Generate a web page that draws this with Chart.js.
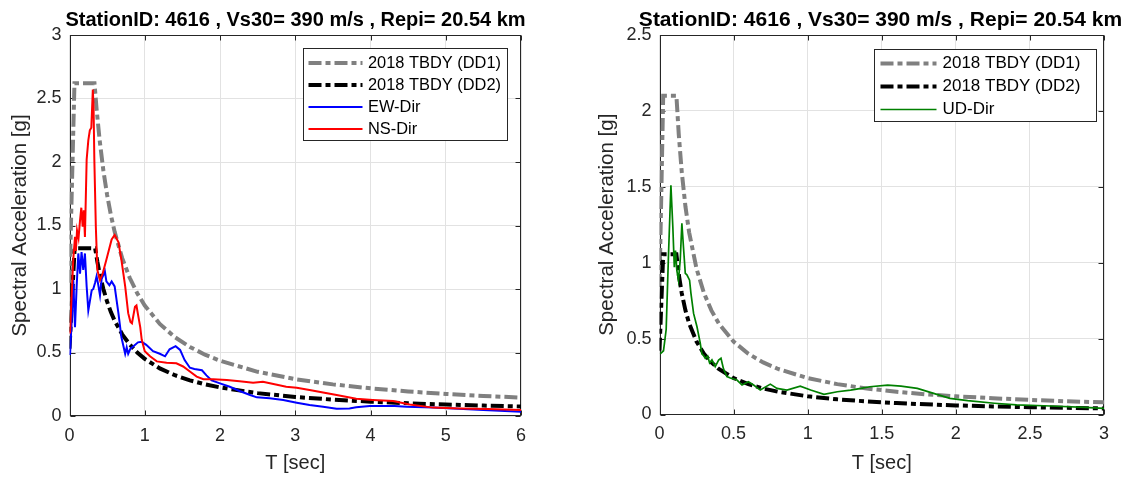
<!DOCTYPE html>
<html><head><meta charset="utf-8">
<script src="https://cdn.jsdelivr.net/npm/chart.js@4.4.1/dist/chart.umd.min.js"></script>
<style>
html,body{margin:0;padding:0;background:#fff;overflow:hidden;width:1132px;height:477px;}
canvas{position:absolute;top:0;}
#c1{left:0;}
#c2{left:587px;}
</style></head><body>
<canvas id="c1" width="591" height="477"></canvas>
<canvas id="c2" width="587" height="477"></canvas>
<script>
// ---------- DATA ----------
const titleText = 'StationID: 4616 , Vs30= 390 m/s , Repi= 20.54 km';

// Left panel (horizontal components)
const tDD1 = [0, 0.066, 0.332, 0.36, 0.4, 0.45, 0.5, 0.55, 0.6, 0.7, 0.8, 0.9, 1.0, 1.2, 1.4, 1.6, 1.8, 2.0, 2.5, 3.0, 3.5, 4.0, 4.5, 5.0, 5.5, 6.0];
const saDD1 = [1.05, 2.62, 2.62, 2.417, 2.175, 1.933, 1.74, 1.582, 1.45, 1.243, 1.088, 0.967, 0.87, 0.725, 0.621, 0.544, 0.483, 0.435, 0.348, 0.29, 0.249, 0.218, 0.193, 0.174, 0.158, 0.145];
const tDD2 = [0, 0.068, 0.341, 0.37, 0.4, 0.45, 0.5, 0.55, 0.6, 0.7, 0.8, 0.9, 1.0, 1.2, 1.4, 1.6, 1.8, 2.0, 2.5, 3.0, 3.5, 4.0, 4.5, 5.0, 5.5, 6.0];
const saDD2 = [0.53, 1.32, 1.32, 1.216, 1.125, 1.0, 0.9, 0.818, 0.75, 0.643, 0.563, 0.5, 0.45, 0.375, 0.321, 0.281, 0.25, 0.225, 0.18, 0.15, 0.129, 0.113, 0.1, 0.09, 0.082, 0.075];
const tEW = [0.007, 0.03, 0.05, 0.073, 0.095, 0.117, 0.14, 0.16, 0.183, 0.205, 0.228, 0.25, 0.27, 0.295, 0.316, 0.34, 0.36, 0.38, 0.405, 0.427, 0.45, 0.47, 0.49, 0.53, 0.56, 0.60, 0.65, 0.69, 0.74, 0.76, 0.78, 0.81, 0.85, 0.91, 0.96, 1.02, 1.11, 1.20, 1.27, 1.33, 1.41, 1.47, 1.53, 1.60, 1.66, 1.76, 1.82, 1.89, 2.0, 2.13, 2.26, 2.40, 2.49, 2.66, 2.84, 3.02, 3.19, 3.37, 3.55, 3.72, 3.81, 3.99, 4.32, 4.48, 4.83, 5.1, 5.5, 6.0];
const saEW = [0.48, 0.76, 1.07, 0.70, 1.02, 1.28, 1.12, 1.29, 1.15, 1.28, 1.02, 0.83, 0.90, 0.99, 1.0, 1.05, 1.10, 1.04, 0.95, 1.08, 1.11, 1.14, 1.06, 1.03, 1.06, 1.02, 0.81, 0.62, 0.49, 0.54, 0.49, 0.53, 0.55, 0.58, 0.585, 0.56, 0.51, 0.49, 0.47, 0.525, 0.55, 0.52, 0.44, 0.38, 0.37, 0.36, 0.32, 0.28, 0.257, 0.23, 0.197, 0.165, 0.147, 0.139, 0.126, 0.105, 0.087, 0.073, 0.058, 0.06, 0.068, 0.079, 0.079, 0.073, 0.066, 0.06, 0.047, 0.034];
const tNS = [0.007, 0.03, 0.05, 0.073, 0.085, 0.10, 0.12, 0.14, 0.157, 0.175, 0.19, 0.205, 0.228, 0.25, 0.27, 0.29, 0.31, 0.32, 0.33, 0.35, 0.37, 0.405, 0.44, 0.49, 0.56, 0.60, 0.65, 0.69, 0.74, 0.78, 0.81, 0.83, 0.87, 0.89, 0.91, 0.94, 0.96, 1.0, 1.07, 1.16, 1.29, 1.42, 1.51, 1.60, 1.69, 1.78, 1.91, 2.09, 2.26, 2.44, 2.57, 2.71, 2.88, 3.02, 3.19, 3.37, 3.55, 3.81, 4.03, 4.30, 4.52, 4.83, 5.19, 5.56, 6.0];
const saNS = [0.65, 0.97, 1.23, 1.41, 1.30, 1.46, 1.40, 1.54, 1.64, 1.49, 1.62, 1.41, 2.02, 2.17, 2.25, 2.27, 2.57, 2.43, 2.02, 1.49, 1.15, 1.07, 1.12, 1.23, 1.39, 1.425, 1.37, 1.23, 1.02, 0.81, 0.74, 0.73, 0.86, 0.87, 0.80, 0.70, 0.60, 0.51, 0.47, 0.43, 0.42, 0.415, 0.39, 0.35, 0.31, 0.29, 0.29, 0.283, 0.273, 0.262, 0.27, 0.252, 0.231, 0.223, 0.205, 0.185, 0.165, 0.135, 0.126, 0.118, 0.09, 0.066, 0.06, 0.055, 0.047];

// Right panel (vertical component)
const tDD1v = [0, 0.025, 0.114, 0.13, 0.15, 0.175, 0.2, 0.25, 0.3, 0.35, 0.4, 0.5, 0.6, 0.7, 0.8, 1.0, 1.2, 1.4, 1.6, 1.8, 2.0, 2.25, 2.5, 2.75, 3.0];
const saDD1v = [0.84, 2.1, 2.1, 1.846, 1.6, 1.371, 1.2, 0.96, 0.8, 0.686, 0.6, 0.48, 0.4, 0.343, 0.3, 0.24, 0.2, 0.171, 0.15, 0.133, 0.12, 0.107, 0.096, 0.087, 0.08];
const tDD2v = [0, 0.025, 0.114, 0.13, 0.15, 0.175, 0.2, 0.25, 0.3, 0.35, 0.4, 0.5, 0.6, 0.7, 0.8, 1.0, 1.2, 1.4, 1.6, 1.8, 2.0, 2.25, 2.5, 2.75, 3.0];
const saDD2v = [0.42, 1.056, 1.056, 0.923, 0.8, 0.686, 0.6, 0.48, 0.4, 0.343, 0.3, 0.24, 0.2, 0.171, 0.15, 0.12, 0.1, 0.086, 0.075, 0.067, 0.06, 0.053, 0.048, 0.044, 0.04];
const tUD = [0.005, 0.027, 0.045, 0.061, 0.077, 0.09, 0.10, 0.108, 0.117, 0.128, 0.14, 0.151, 0.162, 0.174, 0.185, 0.203, 0.212, 0.23, 0.253, 0.275, 0.286, 0.297, 0.309, 0.325, 0.338, 0.354, 0.376, 0.399, 0.415, 0.432, 0.455, 0.478, 0.523, 0.557, 0.60, 0.635, 0.68, 0.748, 0.793, 0.86, 0.95, 1.02, 1.11, 1.20, 1.29, 1.36, 1.42, 1.54, 1.63, 1.74, 1.85, 1.96, 2.08, 2.26, 2.41, 2.64, 2.87, 3.0];
const saUD = [0.40, 0.42, 0.56, 1.06, 1.51, 1.235, 0.97, 1.08, 0.95, 0.885, 1.02, 1.26, 1.10, 0.93, 0.92, 0.885, 0.80, 0.666, 0.578, 0.47, 0.40, 0.39, 0.37, 0.385, 0.34, 0.36, 0.315, 0.358, 0.37, 0.30, 0.25, 0.24, 0.227, 0.194, 0.216, 0.194, 0.161, 0.20, 0.172, 0.161, 0.187, 0.161, 0.133, 0.15, 0.161, 0.172, 0.183, 0.194, 0.187, 0.172, 0.139, 0.106, 0.091, 0.074, 0.063, 0.056, 0.047, 0.041];

// Tick labels
const xTicksLeft = [0, 1, 2, 3, 4, 5, 6];
const yTicksLeft = [0, 0.5, 1, 1.5, 2, 2.5, 3];
const xTicksRight = [0, 0.5, 1, 1.5, 2, 2.5, 3];
const yTicksRight = [0, 0.5, 1, 1.5, 2, 2.5];

// Legend labels
const lblDD1 = '2018 TBDY (DD1)';
const lblDD2 = '2018 TBDY (DD2)';
const lblEW = 'EW-Dir';
const lblNS = 'NS-Dir';
const lblUD = 'UD-Dir';

// ---------- RENDERING ----------
const FONT = '"Liberation Sans", Arial, Helvetica, sans-serif';
const AX = '#262626';
const pts = (xs, ys) => xs.map((x, i) => ({x: x, y: ys[i]}));
const fmt = v => String(Number(v.toFixed(2)));

const frameTicks = {
  id: 'frameTicks',
  beforeDatasetsDraw(chart) {
    const {ctx, chartArea: a, scales} = chart;
    const L = Math.round(a.left) + 0.5, R = Math.round(a.right) - 0.5;
    const T = Math.round(a.top) + 0.5, B = Math.round(a.bottom) - 0.5;
    ctx.save();
    ctx.strokeStyle = AX; ctx.lineWidth = 1;
    ctx.strokeRect(L, T, R - L, B - T);
    const len = 5;
    ctx.beginPath();
    scales.x.ticks.forEach(t => {
      const p = Math.round(scales.x.getPixelForValue(t.value)) + 0.5;
      ctx.moveTo(p, B); ctx.lineTo(p, B - len);
      ctx.moveTo(p, T); ctx.lineTo(p, T + len);
    });
    scales.y.ticks.forEach(t => {
      const p = Math.round(scales.y.getPixelForValue(t.value)) + 0.5;
      ctx.moveTo(L, p); ctx.lineTo(L + len, p);
      ctx.moveTo(R, p); ctx.lineTo(R - len, p);
    });
    ctx.stroke();
    ctx.restore();
  }
};

const boxLegend = {
  id: 'boxLegend',
  afterDatasetsDraw(chart, args, o) {
    const {ctx, chartArea: a} = chart;
    const ds = chart.data.datasets;
    const x = Math.round(a.left + o.dx) + 0.5, y = Math.round(a.top + o.dy) + 0.5;
    ctx.save();
    ctx.fillStyle = '#fff';
    ctx.fillRect(x, y, o.w, o.h);
    ctx.strokeStyle = AX; ctx.lineWidth = 1;
    ctx.strokeRect(x, y, o.w, o.h);
    ctx.font = o.fontSize + 'px ' + FONT;
    ctx.textBaseline = 'middle';
    ctx.textAlign = 'left';
    ds.forEach((d, i) => {
      const cy = y + o.first + i * o.row;
      ctx.beginPath();
      ctx.strokeStyle = d.borderColor;
      ctx.lineWidth = d.borderWidth;
      ctx.setLineDash(d.borderDash || []);
      ctx.moveTo(x + o.s0, cy); ctx.lineTo(x + o.s1, cy);
      ctx.stroke();
      ctx.setLineDash([]);
      ctx.fillStyle = '#000';
      ctx.fillText(d.label, x + o.tx, cy);
    });
    ctx.restore();
  }
};

function makeChart(id, datasets, xMax, yMax, xTicks, yTicks, yAxisW, xAxisH, titleSize, legendOpts) {
  return new Chart(document.getElementById(id), {
    type: 'line',
    data: {datasets: datasets},
    options: {
      responsive: false,
      animation: false,
      devicePixelRatio: 1,
      parsing: false,
      layout: {padding: 0},
      elements: {point: {radius: 0}, line: {tension: 0, borderCapStyle: 'butt'}},
      plugins: {
        legend: {display: false},
        tooltip: {enabled: false},
        title: {display: true, text: titleText, color: '#000',
          font: {family: FONT, size: titleSize, weight: 'bold', lineHeight: 1.2},
          padding: {top: 8, bottom: 35 - 8 - titleSize * 1.2}},
        boxLegend: legendOpts
      },
      scales: {
        x: {type: 'linear', min: 0, max: xMax,
          afterBuildTicks: s => { s.ticks = xTicks.map(v => ({value: v})); },
          afterFit: s => { s.height = xAxisH; },
          grid: {color: '#e2e2e2', drawTicks: false, lineWidth: 1},
          border: {display: false},
          ticks: {color: AX, font: {family: FONT, size: 18}, padding: 9, maxRotation: 0, autoSkip: false, callback: fmt},
          title: {display: true, text: 'T [sec]', color: AX, font: {family: FONT, size: 20, lineHeight: 1.2}, padding: {top: 0, bottom: 2}}
        },
        y: {type: 'linear', min: 0, max: yMax,
          afterBuildTicks: s => { s.ticks = yTicks.map(v => ({value: v})); },
          afterFit: s => { s.width = yAxisW; },
          grid: {color: '#e2e2e2', drawTicks: false, lineWidth: 1},
          border: {display: false},
          ticks: {color: AX, font: {family: FONT, size: 18}, padding: 8, autoSkip: false, callback: fmt},
          title: {display: true, text: 'Spectral Acceleration [g]', color: AX, font: {family: FONT, size: 20.5, lineHeight: 1.2}, padding: {top: 8, bottom: 0}}
        },
        pad: {type: 'linear', position: 'right', display: true,
          afterFit: s => { s.width = 70; },
          grid: {display: false}, border: {display: false}, ticks: {display: false}}
      }
    },
    plugins: [frameTicks, boxLegend]
  });
}

const dashDD = [13, 4, 5, 4];

makeChart('c1', [
  {label: lblDD1, data: pts(tDD1, saDD1), borderColor: '#808080', borderWidth: 4, borderDash: dashDD, order: 3},
  {label: lblDD2, data: pts(tDD2, saDD2), borderColor: '#000000', borderWidth: 4, borderDash: dashDD, order: 2},
  {label: lblEW, data: pts(tEW, saEW), borderColor: '#0000ff', borderWidth: 2, order: 1},
  {label: lblNS, data: pts(tNS, saNS), borderColor: '#ff0000', borderWidth: 2, order: 0}
], 6, 3, xTicksLeft, yTicksLeft, 69.5, 61, 20,
  {dx: 233.2, dy: 13.3, w: 204, h: 92, first: 14.5, row: 22, s0: 5, s1: 59, tx: 64.5, fontSize: 16.4});

makeChart('c2', [
  {label: lblDD1, data: pts(tDD1v, saDD1v), borderColor: '#808080', borderWidth: 4, borderDash: dashDD, order: 2},
  {label: lblDD2, data: pts(tDD2v, saDD2v), borderColor: '#000000', borderWidth: 4, borderDash: dashDD, order: 1},
  {label: lblUD, data: pts(tUD, saUD), borderColor: '#008000', borderWidth: 1.7, order: 0}
], 3, 2.5, xTicksRight, yTicksRight, 72.5, 62.5, 21,
  {dx: 214.8, dy: 14.3, w: 222, h: 72, first: 14, row: 23, s0: 6, s1: 62, tx: 68, fontSize: 17});
</script>
</body></html>
